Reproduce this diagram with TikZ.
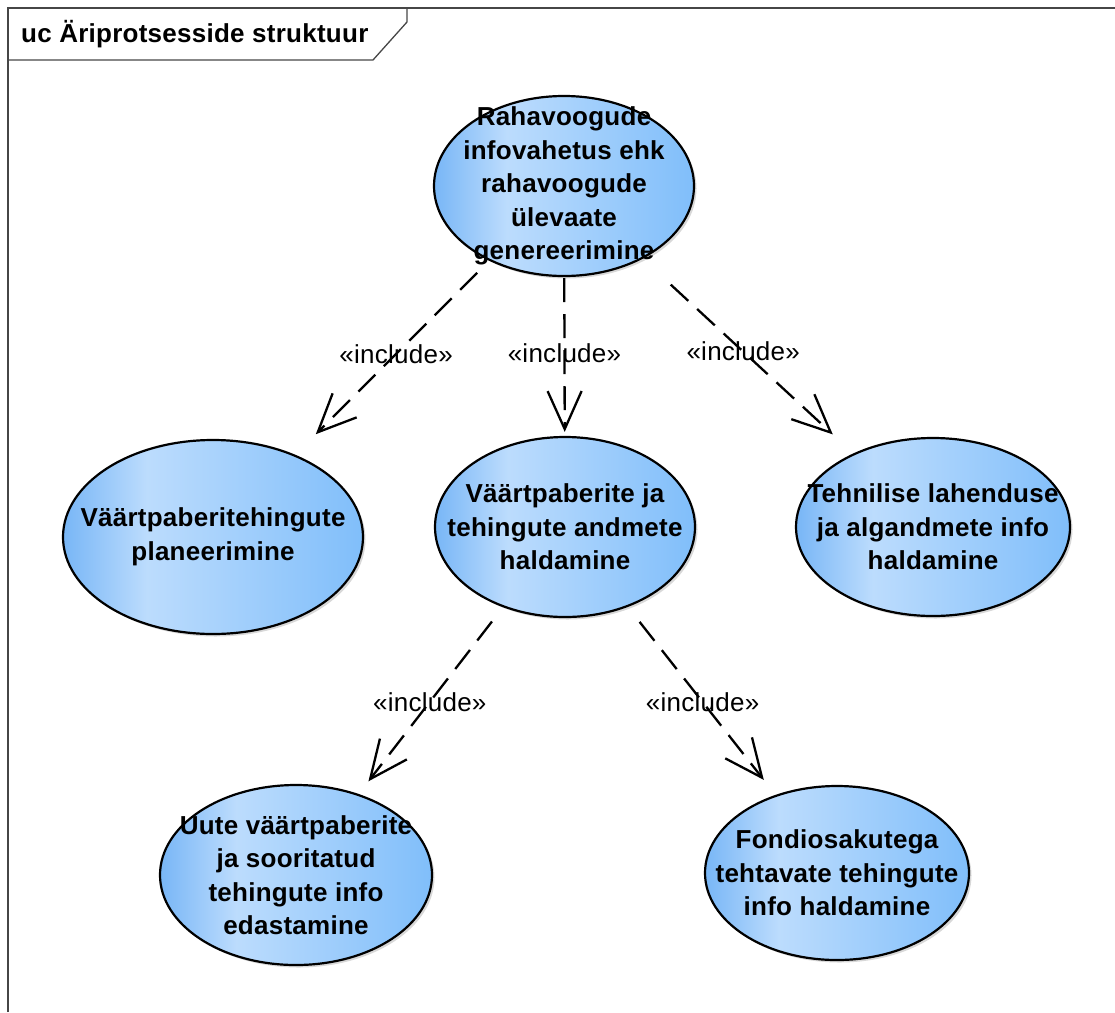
\documentclass[tikz,border=0pt]{standalone}
\usepackage{fontspec}
\setmainfont{Liberation Sans}[LetterSpace=1]
\usetikzlibrary{shapes.geometric,arrows.meta,shadows}

\definecolor{ucA}{RGB}{120,182,246}
\definecolor{ucB}{RGB}{188,220,253}
\definecolor{ucC}{RGB}{128,190,250}
\definecolor{frameline}{RGB}{70,70,70}

% use case fill: darker rim on the left, light band, then mid blue
\pgfdeclarehorizontalshading{ucshade}{100bp}{color(0bp)=(ucA); color(25bp)=(ucA); color(39bp)=(ucB); color(75bp)=(ucC); color(100bp)=(ucC)}

\tikzset{
  usecase/.style={ellipse, draw=black, line width=2.2pt, shade, shading=ucshade,
    inner sep=0pt,
    drop shadow={shadow xshift=2.5pt, shadow yshift=-2.5pt, fill=black!30}},
  uctext/.style={font=\bfseries\fontsize{26}{33.5}\selectfont, align=center, inner sep=0pt},
  incl/.style={draw=black, line width=2.3pt, dash pattern=on 24pt off 12pt,
    -{Straight Barb[length=38pt,width=34pt]}},
  stereo/.style={font=\fontsize{26}{28}\selectfont, inner sep=0pt},
  frame/.style={draw=frameline, line width=1.3pt},
  title/.style={font=\bfseries\fontsize{26}{28}\selectfont, inner sep=0pt}
}

\begin{document}
\begin{tikzpicture}[x=1pt, y=-1pt]
  \useasboundingbox (0,0) rectangle (1115,1012);

  % diagram frame with its name tab
  \draw[frame] (8,1012) -- (8,8) -- (1115,8);
  \draw[frame] (8,60) -- (373,60) -- (407,22) -- (407,8);
  \node[title, anchor=base west] (name) at (21,42) {uc Äriprotsesside struktuur};

  % use cases
  \node[usecase, minimum width=260pt, minimum height=180pt,
    label={[uctext]center:{Rahavoogude\\infovahetus ehk\\rahavoogude\\ülevaate\\genereerimine}}]
    (flow) at (564,186) {};
  \node[usecase, minimum width=300pt, minimum height=194pt,
    label={[uctext]center:{Väärtpaberitehingute\\planeerimine}}]
    (plan) at (213,537) {};
  \node[usecase, minimum width=260pt, minimum height=180pt,
    label={[uctext]center:{Väärtpaberite ja\\tehingute andmete\\haldamine}}]
    (data) at (565,527) {};
  \node[usecase, minimum width=274pt, minimum height=178pt,
    label={[uctext]center:{Tehnilise lahenduse\\ja algandmete info\\haldamine}}]
    (tech) at (933,527) {};
  \node[usecase, minimum width=272pt, minimum height=180pt,
    label={[uctext]center:{Uute väärtpaberite\\ja sooritatud\\tehingute info\\edastamine}}]
    (send) at (296,875) {};
  \node[usecase, minimum width=264pt, minimum height=174pt,
    label={[uctext]center:{Fondiosakutega\\tehtavate tehingute\\info haldamine}}]
    (fund) at (837,873) {};

  % include relations
  \draw[incl, shorten <=17pt, shorten >=29pt] (flow) -- node[stereo, pos=0.48] {«include»} (plan);
  \draw[incl, shorten <=1pt, shorten >=4pt] (flow) -- node[stereo, pos=0.48] {«include»} (data);
  \draw[incl, shorten <=38pt, shorten >=28pt] (flow) -- node[stereo, pos=0.477] {«include»} (tech);
  \draw[incl, shorten <=18pt, shorten >=16pt] (data) -- node[stereo, pos=0.507] {«include»} (send);
  \draw[incl, shorten <=19pt, shorten >=19pt] (data) -- node[stereo, pos=0.506] {«include»} (fund);
\end{tikzpicture}
\end{document}
